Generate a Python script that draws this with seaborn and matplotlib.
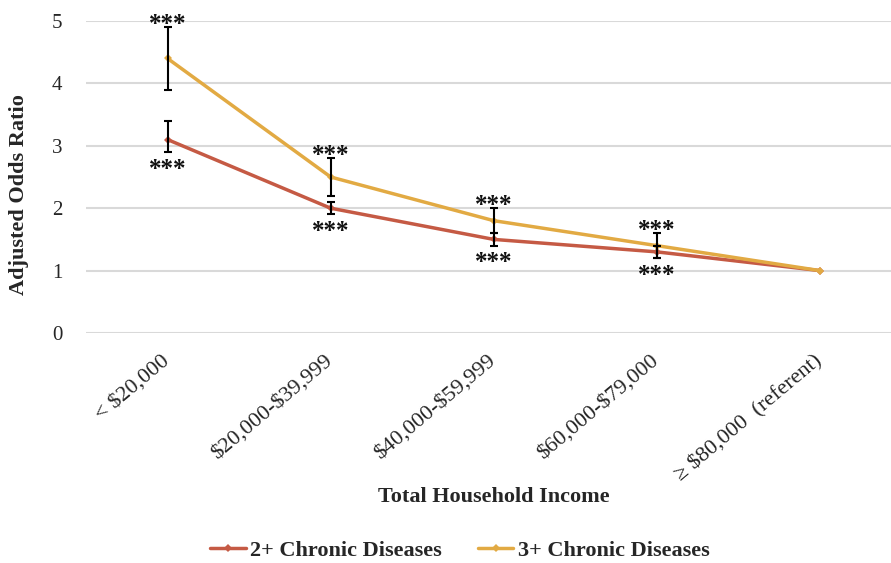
import numpy as np
import pandas as pd
import matplotlib
matplotlib.use("Agg")
import matplotlib.pyplot as plt
import matplotlib.transforms as mtransforms
import seaborn as sns

categories = ["< $20,000", "$20,000-$39,999", "$40,000-$59,999", "$60,000-$79,000", "≥ $80,000  (referent)"]
series_names = ["2+ Chronic Diseases", "3+ Chronic Diseases"]
or_2plus = [3.1, 2.0, 1.5, 1.3, 1.0]
lo_2plus = [2.9, 1.9, 1.4, 1.2, 1.0]
hi_2plus = [3.4, 2.1, 1.6, 1.4, 1.0]
or_3plus = [4.4, 2.5, 1.8, 1.4, 1.0]
lo_3plus = [3.9, 2.2, 1.6, 1.2, 1.0]
hi_3plus = [4.9, 2.8, 2.0, 1.6, 1.0]
stars = ["***", "***", "***", "***", ""]

colors = ["#C55A44", "#E2AA43"]

sns.set_theme(style="white")
plt.rcParams['font.family'] = ['Liberation Serif', 'DejaVu Serif']
plt.rcParams['text.parse_math'] = False

fig = plt.figure(figsize=(8.91, 5.63), dpi=100)
ax = fig.add_axes([86 / 891, 1 - 333 / 563, (891 - 86) / 891, (333 - 21) / 563])

df = pd.DataFrame({
    "x": list(range(len(categories))) * 2,
    "y": or_2plus + or_3plus,
    "series": [series_names[0]] * len(categories) + [series_names[1]] * len(categories),
})

sns.lineplot(data=df, x="x", y="y", hue="series", palette=colors, marker="D",
             markersize=4, markeredgewidth=0, linewidth=2.5, ax=ax, zorder=3)

xs = np.arange(len(categories))
for vals, lo, hi in [(or_2plus, lo_2plus, hi_2plus), (or_3plus, lo_3plus, hi_3plus)]:
    v = np.array(vals); l = np.array(lo); h = np.array(hi)
    mask = (h - l) > 0
    ax.errorbar(xs[mask], v[mask], yerr=[v[mask] - l[mask], h[mask] - v[mask]],
                fmt="none", ecolor="black", elinewidth=1.5, capsize=3, capthick=1.5, zorder=4)

for i, s in enumerate(stars):
    if not s:
        continue
    ax.annotate(s, (xs[i], hi_3plus[i]), xytext=(0, -2.5), textcoords="offset points",
                ha="center", va="baseline", fontsize=18, fontweight="bold", color="#111111")
    ax.annotate(s, (xs[i], lo_2plus[i]), xytext=(0, -17), textcoords="offset points",
                ha="center", va="baseline", fontsize=18, fontweight="bold", color="#111111")

ax.set_xlim(-0.5, (891 - 168) / 163)
ax.set_ylim(0, 5)
ax.set_yticks([0, 1, 2, 3, 4, 5])
ax.yaxis.grid(True, color="#D9D9D9", linewidth=1.5)
ax.set_axisbelow(True)
for sp in ax.spines.values():
    sp.set_visible(False)
ax.tick_params(axis="both", length=0, labelsize=15, colors="#262626")
ax.tick_params(axis="y", pad=17)
ax.tick_params(axis="x", pad=6)
ax.set_xticks(xs)
ax.set_xticklabels(categories, rotation=40, ha="right", rotation_mode="anchor", fontsize=16)
offset = mtransforms.ScaledTranslation(-7 / 100, -10 / 100, fig.dpi_scale_trans)
for lab in ax.get_xticklabels():
    lab.set_transform(lab.get_transform() + offset)
ax.set_ylabel("Adjusted Odds Ratio", fontsize=16, fontweight="bold")
ax.yaxis.set_label_coords((29 - 86) / 805, (333 - 195) / 312)
ax.set_xlabel("")
fig.text(494 / 891, 1 - 497 / 563, "Total Household Income", ha="center", va="center",
         fontsize=16, fontweight="bold")

handles, labels = ax.get_legend_handles_labels()
ax.legend_.remove()
fig.legend(handles, labels, loc="center", bbox_to_anchor=(460 / 891, 1 - 551 / 563), ncol=2,
           frameon=False, prop={"size": 16, "weight": "bold"}, handlelength=1.6,
           columnspacing=1.6, handletextpad=0.2)

fig.savefig("out.png", dpi=100)
